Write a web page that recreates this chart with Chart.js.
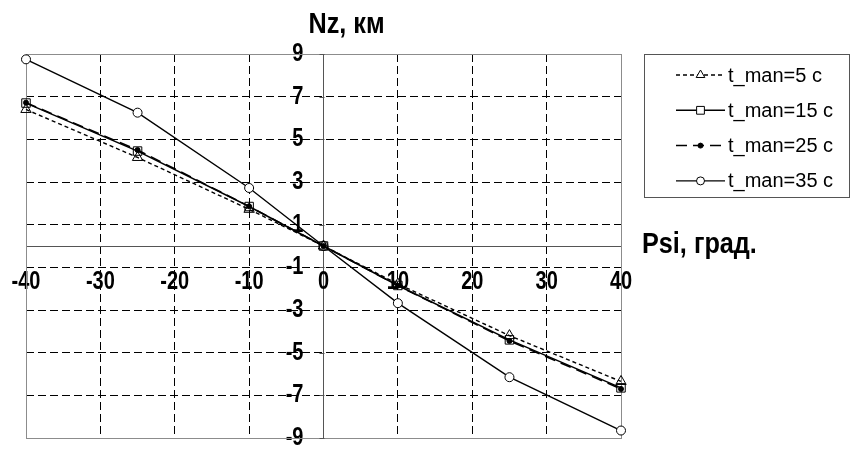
<!DOCTYPE html>
<html>
<head>
<meta charset="utf-8">
<script src="https://cdn.jsdelivr.net/npm/chart.js@4/dist/chart.umd.min.js"></script>
<style>
  html, body { margin: 0; padding: 0; background: #fff; }
  #wrap { width: 867px; height: 461px; position: relative; }
</style>
</head>
<body>
<div id="wrap"><canvas id="c" width="867" height="461"></canvas></div>
<script>
// Heading angle, degrees
const psi = [-40, -25, -10, 0, 10, 25, 40];

// Lateral deviation Nz, km, per manoeuvre duration
const tMan5  = [6.4, 4.15, 1.72, 0, -1.78, -4.2, -6.35];
const tMan15 = [6.7, 4.45, 1.85, 0, -1.85, -4.4, -6.65];
const tMan25 = [6.72, 4.5, 1.86, 0, -1.86, -4.45, -6.7];
const tMan35 = [8.75, 6.25, 2.72, 0, -2.68, -6.15, -8.65];

const seriesNames = ['t_man=5 c', 't_man=15 c', 't_man=25 c', 't_man=35 c'];

const xTicks = [-40, -30, -20, -10, 0, 10, 20, 30, 40];
const yTicks = [-9, -7, -5, -3, -1, 1, 3, 5, 7, 9];

const yTitle = 'Nz, км';
const xTitle = 'Psi, град.';

const SANS = "'Liberation Sans', Arial, sans-serif";
const TICK_SIZE = 25;      // tick labels are set in a condensed bold face
const TICK_SQUEEZE = 0.8;
const TITLE_SQUEEZE = 0.87;
const Y_LABEL_AT = -2.7;   // y tick labels sit a little left of the x = 0 axis

const canvas = document.getElementById('c');
const g = canvas.getContext('2d');

// Condensed rendering for the bold tick labels (no narrow face is installed)
const baseFillText = g.fillText;
g.fillText = function (text, x, y, maxWidth) {
  const k = this.font.indexOf(TICK_SIZE + 'px') >= 0 ? TICK_SQUEEZE : 1;
  if (k === 1) {
    return maxWidth === undefined ? baseFillText.call(this, text, x, y)
                                  : baseFillText.call(this, text, x, y, maxWidth);
  }
  this.save();
  this.translate(x, y);
  this.scale(k, 1);
  baseFillText.call(this, text, 0, 0);
  this.restore();
};

const pts = vals => vals.map((v, i) => ({ x: psi[i], y: v }));

function squeezedText(ctx, text, x, y, k) {
  ctx.save();
  ctx.translate(x, y);
  ctx.scale(k, 1);
  ctx.fillText(text, 0, 0);
  ctx.restore();
}

// Axes live inside the plot, so their label overhang must not shrink it
const noOverhang = s => { s.paddingLeft = 0; s.paddingRight = 0; s.paddingTop = 0; s.paddingBottom = 0; };

const frameAndTitles = {
  id: 'frameAndTitles',
  beforeDatasetsDraw(chart) {
    const { ctx, chartArea: a } = chart;
    ctx.save();
    ctx.strokeStyle = '#8c8c8c';
    ctx.lineWidth = 1;
    ctx.strokeRect(Math.round(a.left) + 0.5, Math.round(a.top) + 0.5,
                   Math.round(a.right - a.left), Math.round(a.bottom - a.top));
    // short tick marks on the left of the vertical axis
    const x0 = Math.round(chart.scales.x.getPixelForValue(0)) + 0.5;
    ctx.strokeStyle = '#555';
    ctx.beginPath();
    yTicks.forEach(v => {
      const py = Math.round(chart.scales.y.getPixelForValue(v)) + 0.5;
      ctx.moveTo(x0 - 5, py); ctx.lineTo(x0, py);
    });
    ctx.stroke();
    ctx.restore();
  },
  afterDraw(chart) {
    const { ctx } = chart;
    const xs = chart.scales.x, ys = chart.scales.y;
    ctx.save();
    ctx.fillStyle = '#000';
    ctx.textBaseline = 'alphabetic';
    ctx.textAlign = 'left';
    ctx.font = 'bold 29px ' + SANS;
    squeezedText(ctx, yTitle, xs.getPixelForValue(0) - 15, 33, TITLE_SQUEEZE);
    squeezedText(ctx, xTitle, xs.right + 21, ys.getPixelForValue(0) + 7, TITLE_SQUEEZE);

    // legend
    const bx = 644, by = 54, bw = 205, bh = 143;
    ctx.strokeStyle = '#555';
    ctx.lineWidth = 1;
    ctx.strokeRect(bx + 0.5, by + 0.5, bw, bh);
    ctx.font = '20px ' + SANS;
    ctx.textBaseline = 'middle';
    chart.data.datasets.forEach((ds, i) => {
      const cy = 75 + i * 35.3;
      const x1 = 676, x2 = 725, cx = (x1 + x2) / 2;
      ctx.save();
      ctx.strokeStyle = ds.borderColor;
      ctx.lineWidth = ds.borderWidth;
      ctx.setLineDash(ds.borderDash || []);
      ctx.beginPath();
      ctx.moveTo(x1, cy); ctx.lineTo(x2, cy);
      ctx.stroke();
      ctx.setLineDash([]);
      ctx.fillStyle = ds.legendFill;
      ctx.strokeStyle = ds.pointBorderColor;
      ctx.lineWidth = 1;
      Chart.helpers.drawPoint(ctx, {
        pointStyle: ds.pointStyle,
        radius: ds.legendRadius,
        borderWidth: 1,
        rotation: 0
      }, cx, cy);
      ctx.restore();
      ctx.fillStyle = '#000';
      ctx.fillText(ds.label, 728, cy + 1);
    });
    ctx.restore();
  }
};

const isOneOf = (c, vals) => !!c.tick && vals.includes(c.tick.value);

new Chart(canvas, {
  type: 'line',
  data: {
    datasets: [
      { label: seriesNames[0], data: pts(tMan5), borderColor: '#000', borderWidth: 1.4,
        borderDash: [4, 3], pointStyle: 'triangle', pointRadius: 6, legendRadius: 5, legendFill: '#fff',
        pointBackgroundColor: 'rgba(255,255,255,0)', pointBorderColor: '#000', pointBorderWidth: 1 },
      { label: seriesNames[1], data: pts(tMan15), borderColor: '#000', borderWidth: 1.5,
        pointStyle: 'rect', pointRadius: 6, legendRadius: 5.5, legendFill: '#fff',
        pointBackgroundColor: 'rgba(255,255,255,0)', pointBorderColor: '#000', pointBorderWidth: 1 },
      { label: seriesNames[2], data: pts(tMan25), borderColor: '#000', borderWidth: 1.5,
        borderDash: [11, 6], pointStyle: 'circle', pointRadius: 2.5, legendRadius: 2.5, legendFill: '#000',
        pointBackgroundColor: '#000', pointBorderColor: '#000', pointBorderWidth: 1 },
      { label: seriesNames[3], data: pts(tMan35), borderColor: '#000', borderWidth: 1.4,
        pointStyle: 'circle', pointRadius: 4.5, legendRadius: 4, legendFill: '#fff',
        pointBackgroundColor: '#fff', pointBorderColor: '#000', pointBorderWidth: 1 }
    ]
  },
  options: {
    responsive: false,
    animation: false,
    events: [],
    layout: { padding: { left: 26, right: 246, top: 54, bottom: 23 } },
    elements: { line: { tension: 0, fill: false } },
    datasets: { line: { clip: false } },
    plugins: { legend: { display: false }, tooltip: { enabled: false } },
    scales: {
      x: {
        type: 'linear',
        position: { y: 0 },
        min: -40, max: 40,
        afterBuildTicks: s => { s.ticks = xTicks.map(v => ({ value: v })); },
        afterFit: noOverhang,
        ticks: { color: '#000', font: { family: SANS, size: TICK_SIZE, weight: 'bold' }, padding: 21 },
        grid: {
          color: c => isOneOf(c, [-40, 40]) ? 'rgba(0,0,0,0)' : (isOneOf(c, [0]) ? '#555' : '#000'),
          lineWidth: 1,
          drawTicks: false
        },
        border: {
          display: true, color: '#555', width: 1,
          dash: c => isOneOf(c, [0]) ? [] : [8, 4]
        }
      },
      y: {
        type: 'linear',
        position: { x: Y_LABEL_AT },
        min: -9, max: 9,
        afterBuildTicks: s => { s.ticks = yTicks.map(v => ({ value: v })); },
        afterFit: noOverhang,
        ticks: { color: '#000', font: { family: SANS, size: TICK_SIZE, weight: 'bold' } },
        grid: {
          color: c => isOneOf(c, [-9, 9]) ? 'rgba(0,0,0,0)' : '#000',
          lineWidth: 1,
          drawTicks: false
        },
        border: { display: false, dash: [8, 4] }
      }
    }
  },
  plugins: [frameAndTitles]
});
</script>
</body>
</html>
